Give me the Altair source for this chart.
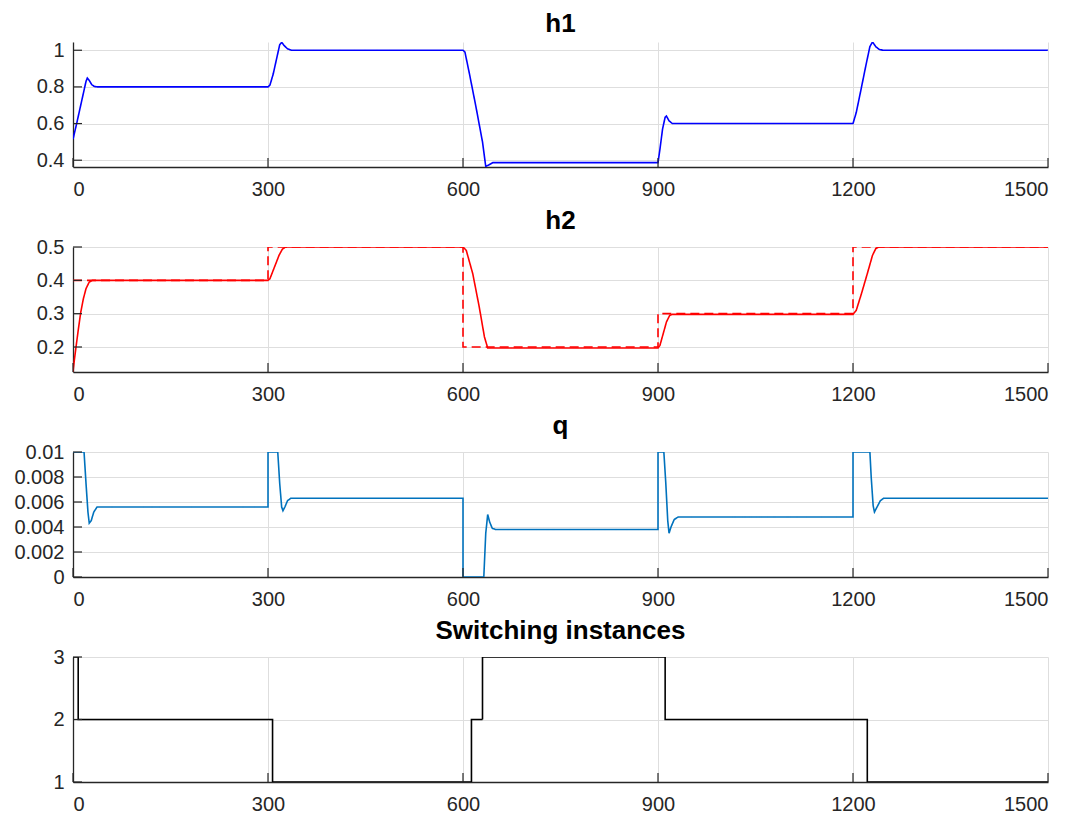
import altair as alt
import pandas as pd

# ---------------- data ----------------
x_ticks = [0, 300, 600, 900, 1200, 1500]

h1_t = [0, 5, 10, 15, 20, 22, 25, 29, 33, 38,
        300, 303, 308, 313, 318, 321, 325, 330, 336,
        600, 603, 610, 620, 630, 635, 640, 646,
        900, 903, 907, 911, 913, 917, 922,
        1200, 1205, 1212, 1220, 1226, 1230, 1235, 1240, 1246, 1500]
h1_v = [0.515, 0.59, 0.67, 0.75, 0.83, 0.848, 0.835, 0.812, 0.802, 0.80,
        0.80, 0.81, 0.87, 0.95, 1.03, 1.043, 1.025, 1.008, 1.0,
        1.0, 0.99, 0.87, 0.69, 0.50, 0.366, 0.375, 0.387,
        0.387, 0.46, 0.57, 0.635, 0.641, 0.615, 0.60,
        0.60, 0.66, 0.78, 0.92, 1.02, 1.045, 1.02, 1.005, 1.0, 1.0]

h2_t = [0, 2, 5, 8, 12, 16, 20, 25, 30,
        300, 303, 310, 317, 322, 326, 330,
        600, 605, 615, 625, 633, 638,
        900, 903, 908, 913, 918, 922,
        1200, 1205, 1213, 1222, 1230, 1235, 1240, 1500]
h2_v = [0.125, 0.16, 0.205, 0.25, 0.305, 0.345, 0.375, 0.395, 0.40,
        0.40, 0.405, 0.44, 0.475, 0.493, 0.499, 0.50,
        0.50, 0.49, 0.42, 0.32, 0.23, 0.197,
        0.197, 0.205, 0.24, 0.275, 0.295, 0.298,
        0.298, 0.31, 0.36, 0.42, 0.475, 0.495, 0.50, 0.50]

h2ref_t = [0, 300, 300, 600, 600, 900, 900, 1200, 1200, 1500]
h2ref_v = [0.4, 0.4, 0.5, 0.5, 0.2, 0.2, 0.3, 0.3, 0.5, 0.5]

q_t = [0, 17, 20, 23, 25, 28, 32, 37,
       300, 300, 315, 318, 321, 323, 326, 330, 335,
       600, 600, 632, 635, 638, 641, 645, 650,
       900, 900, 909, 912, 915, 917, 920, 925, 931,
       1200, 1200, 1226, 1228, 1231, 1233, 1237, 1242, 1247, 1500]
q_v = [0.01, 0.01, 0.0075, 0.0052, 0.0043, 0.0045, 0.0052, 0.0056,
       0.0056, 0.01, 0.01, 0.0075, 0.0056, 0.0053, 0.0056, 0.0061, 0.0063,
       0.0063, 0.0, 0.0, 0.0035, 0.005, 0.0044, 0.0039, 0.0038,
       0.0038, 0.01, 0.01, 0.0075, 0.0045, 0.0035, 0.0040, 0.0046, 0.0048,
       0.0048, 0.01, 0.01, 0.008, 0.0057, 0.0052, 0.0056, 0.0061, 0.0063, 0.0063]

sw_t = [0, 8, 8, 307, 307, 613, 613, 630, 630, 911, 911, 1222, 1222, 1500]
sw_v = [3, 3, 2, 2, 1, 1, 2, 2, 3, 3, 2, 2, 1, 1]

# ---------------- layout ----------------
W = 975
H = 125
FONT = "Liberation Sans"
AX = "#262626"


def df_of(t, v):
    return pd.DataFrame({"t": t, "v": v, "i": list(range(len(t)))})


def panel(title, lines, ydom, yticks):
    xs = alt.Scale(domain=[0, 1500], nice=False)
    ys = alt.Scale(domain=ydom, nice=False, zero=False)
    xax = alt.Axis(values=x_ticks, format="d", grid=True, ticks=False,
                   labelPadding=12, title=None)
    yax = alt.Axis(values=yticks, format="~g", grid=True, ticks=False,
                   labelPadding=9, title=None)
    X = alt.X("t:Q", scale=xs, axis=xax)
    Y = alt.Y("v:Q", scale=ys, axis=yax)
    layers = []
    for df, color, dash in lines:
        mk = alt.Chart(df).mark_line(color=color, strokeWidth=1.6,
                                     strokeDash=dash, clip=True)
        layers.append(mk.encode(x=X, y=Y, order=alt.Order("i:Q")))
    xt = alt.Chart(pd.DataFrame({"t": x_ticks})).mark_rule(
        color=AX, strokeWidth=1.2).encode(
        x=X, y=alt.value(H), y2=alt.value(H - 9))
    yt = alt.Chart(pd.DataFrame({"v": yticks})).mark_rule(
        color=AX, strokeWidth=1.2).encode(
        y=Y, x=alt.value(0), x2=alt.value(9))
    return alt.layer(*layers, xt, yt).properties(
        width=W, height=H,
        title=alt.TitleParams(title, fontSize=26, fontWeight="bold", font=FONT,
                              color="#000000", offset=3, anchor="middle"),
    )


p1 = panel("h1", [(df_of(h1_t, h1_v), "#0000FF", [1, 0])],
           [0.363, 1.045], [0.4, 0.6, 0.8, 1.0])
p2 = panel("h2", [(df_of(h2_t, h2_v), "#FF0000", [1, 0]),
                  (df_of(h2ref_t, h2ref_v), "#FF0000", [9, 5])],
           [0.125, 0.5], [0.2, 0.3, 0.4, 0.5])
p3 = panel("q", [(df_of(q_t, q_v), "#0072BD", [1, 0])],
           [0.0, 0.01], [0, 0.002, 0.004, 0.006, 0.008, 0.01])
p4 = panel("Switching instances", [(df_of(sw_t, sw_v), "#000000", [1, 0])],
           [1, 3], [1, 2, 3])

chart = alt.vconcat(p1, p2, p3, p4, spacing=9).properties(
    padding={"left": 5, "top": 3, "right": 5, "bottom": 0}
).configure_view(stroke=None).configure_axis(
    labelFont=FONT, labelFontSize=20, labelColor=AX,
    domainColor=AX, domainWidth=1.3,
    gridColor="#dedede", gridWidth=1,
)

chart.save("out.html", embed_options={"renderer": "svg", "actions": False})
